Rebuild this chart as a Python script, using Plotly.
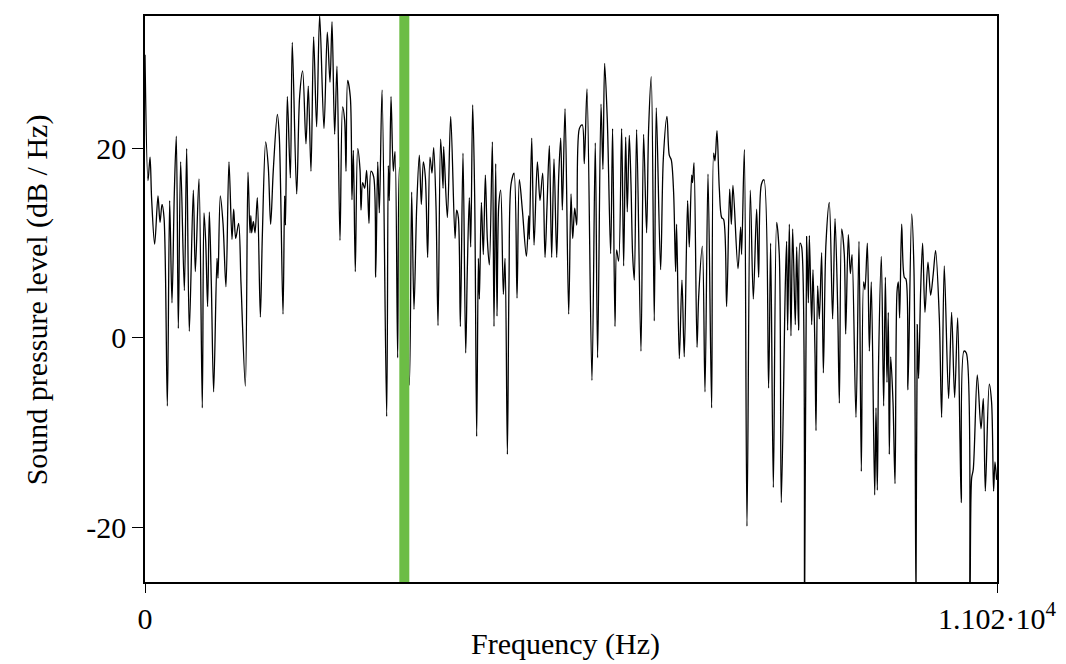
import plotly.graph_objects as go

# Spectrum (frequency in Hz, level in dB/Hz)
freq_hz = [
    0, 39, 65, 86, 125, 168, 194, 220, 246, 289, 319, 349, 379, 405, 431, 461, 509, 539, 573,
    625, 651, 698, 741, 763, 785, 810, 832, 858, 888, 931, 944, 974, 1009, 1047, 1086, 1125,
    1147, 1173, 1211, 1242, 1298, 1332, 1358,
    1369, 1380, 1401, 1423, 1453, 1492, 1518, 1561, 1595, 1625, 1660, 1712, 1737, 1785, 1806,
    1817, 1841, 1880, 1905, 1962, 2000, 2039, 2082, 2112, 2147, 2181, 2220, 2259, 2315, 2358,
    2393, 2419, 2453, 2483, 2522, 2556, 2582, 2600, 2621, 2656, 2677, 2695, 2720, 2751, 2781,
    2794, 2815, 2841, 2867, 2897, 2923, 2958, 2984, 3010, 3031, 3066, 3126, 3147, 3160, 3182,
    3212, 3234, 3268, 3290, 3350, 3419, 3449, 3479, 3514, 3548, 3574, 3600, 3626, 3656, 3686,
    3712, 3734, 3764, 3790, 3824, 3855, 3863, 3911, 3954, 4010, 4031, 4053, 4079, 4113, 4148,
    4169, 4195,
    4213, 4238, 4264, 4290, 4312, 4325, 4351, 4376, 4402, 4428, 4454, 4493, 4514, 4536, 4553,
    4575, 4601, 4635, 4657, 4687, 4708, 4734, 4773, 4812, 4842, 4881, 4933, 4963, 4971, 5002,
    5032, 5075, 5109, 5144, 5174, 5200, 5230, 5260, 5290, 5325, 5351, 5377, 5398, 5433, 5480,
    5510, 5532, 5558, 5584, 5618,
    5656, 5682, 5717, 5781, 5824, 5854, 5898, 5923, 5945, 5980, 6023, 6048, 6079, 6100, 6126,
    6165, 6191, 6217, 6238, 6264, 6286, 6307, 6329, 6359, 6415, 6449, 6488, 6514, 6548, 6587,
    6613, 6669, 6704, 6751, 6781, 6807, 6837, 6863, 6876, 6911, 6945, 6975, 7018, 7040,
    7071, 7083, 7101, 7140, 7161, 7209, 7243, 7282, 7329, 7355, 7372, 7398, 7428, 7459, 7484,
    7523, 7562, 7584, 7605, 7670, 7704, 7717, 7752, 7786, 7829, 7868, 7911, 7937, 7972, 8006,
    8066, 8092, 8127, 8170, 8204, 8230, 8282, 8299, 8312, 8334, 8355, 8377, 8411, 8429, 8454,
    8472, 8493, 8532, 8558, 8580, 8593, 8623, 8640, 8666, 8679, 8700, 8722, 8752, 8774, 8808,
    8851, 8894, 8925, 8959, 8981, 9011, 9045, 9063, 9097, 9123, 9145, 9196, 9235, 9265, 9295,
    9312, 9343, 9369, 9394, 9438, 9455, 9472, 9489, 9524, 9554, 9576, 9597, 9614, 9627, 9645,
    9675, 9701, 9727, 9744, 9761, 9787, 9821, 9843, 9868,
    9916, 9946, 9972, 9989, 10006, 10032, 10058, 10088, 10127, 10162, 10196, 10226, 10274,
    10304, 10338, 10394, 10433, 10472, 10511, 10541, 10558, 10593, 10623, 10670, 10692, 10713,
    10765, 10813, 10843, 10869, 10920, 10950, 10976, 10994, 11015,
]
level_db = [
    29.9, 16.6, 19.1, 14.6, 9.9, 15.0, 12.2, 14.1, 12.7, -7.2, 14.5, 3.7, 15.2, 21.3, 1.0, 18.6, 5.0, 20.0, 0.7,
    15.6, 7.0, 16.8, -7.4, 13.2, 10.2, 3.3, 13.3, 5.7, -5.7, 8.4, 6.3, 15.0, 12.1, 5.4, 18.6, 10.4,
    13.6, 10.5, 12.1, 5.7, -5.1, 17.5, 11.1,
    12.9, 11.1, 12.3, 11.1, 14.8, 2.2, 10.9, 20.7, 18.0, 12.0, 17.8, 23.6, 21.3, 2.5, 15.0,
    11.9, 25.5, 16.9, 31.2, 15.2, 25.5, 28.2, 20.5, 26.6, 17.6, 31.8, 22.3, 34.1, 22.1, 32.3,
    27.0, 33.4, 21.5, 28.7, 10.3, 24.4, 23.0, 17.6, 27.2, 25.4, 14.6, 19.8, 7.0, 20.0, 17.8,
    13.5, 16.4, 15.8, 17.7, 12.1, 17.6, 17.0, 6.4, 18.6, 13.2, 26.2, -8.3, 18.2, 14.5, 25.5,
    17.6, 19.7, -2.1, 18.0, 10.0, -5.0, 15.4, 3.0, 13.8, 19.3, 14.1, 18.6, 17.0, 8.5, 19.1,
    17.4, 20.1, 13.9, 1.3, 21.0, 15.8, 20.2, 12.7, 23.4, 10.5, 13.5, 12.7, 1.2, 19.5, -1.6,
    7.2, 14.8,
    9.6, 24.6, 15.0, -10.4, 8.4, 4.1, 14.3, 8.8, 17.2, 10.4, 7.7, 20.7, 1.2, 18.4, 2.3,
    13.9, 15.6, 4.6, 8.4, -12.3, 5.9, 16.2, 17.4, 4.2, 16.7, 13.5, 8.6, 12.9, 10.4, 21.1,
    9.8, 18.6, 14.5, 17.4, 8.5, 13.9, 20.3, 8.5, 18.9, 8.5, 17.1, 21.1, 13.5, 24.2, 2.5,
    15.2, 10.5, 13.7, 11.9, 22.1,
    22.5, 18.4, 26.3, -4.5, 20.6, -2.1, 24.7, 17.8, 29.0, 22.9, 8.9, 22.1, 1.2, 9.3, 8.1,
    22.1, 7.6, 21.2, 13.3, 21.4, 16.2, 8.8, 6.1, 22.0, -1.4, 21.5, 11.1, 22.1, 27.6, 1.8,
    24.3, 7.2, 18.9, 23.4, 19.3, 18.8, 15.4, 7.0, 12.0, -2.2, 6.1, -2.0, 14.5, 9.6,
    17.2, 16.4, 18.5, -1.0, 4.3, 9.7, -5.7, 17.3, -7.4, 19.5, 18.7, 21.9, 15.8, 12.7, 12.5,
    3.3, 15.7, 12.0, 16.1, 7.3, 11.7, 8.8, 19.9, -19.9, 15.6, 4.1, 13.6, 6.4, 16.2, 16.7,
    -5.3, 10.0, -15.8, 12.2, 8.8, -17.4, 5.6, 10.2, 0.8, 12.0, 0.2, 11.5, 1.4, 9.6, 0.8,
    10.0, 9.6, -28.0, 10.7, 3.7, 10.8, 1.4, 7.2, -1.6, -9.8, 5.5, 2.0, 9.0, -3.7, 10.0,
    14.3, 2.0, 12.6, 3.3, -6.9, 11.5, 8.8, 0.4, 10.9, 6.8, 8.8, -8.4, 10.2, -14.1, 5.9,
    5.1, 10.0, -1.4, 5.9, -16.6, -7.4, -16.1, -2.3, 8.6, -7.2, 6.4, -4.7, 2.7, -12.3, -2.0,
    -6.8, -15.4, 4.9, 5.9, 2.1, 12.0, 6.4, 6.2, -5.5,
    13.1, 7.2, -28.0, 1.4, -4.3, 4.9, 10.0, 2.7, 8.0, 4.5, 6.8, 9.2, 2.1,
    -8.4, 7.6, -6.4, 2.7, -6.3, 2.1, -10.7, -17.4, -1.4, -1.6, -28.0, -14.8, -13.9,
    -3.9, -9.6, -6.4, -16.2, -4.9, -6.8, -16.2, -13.1, -15.0,
]

marker_freq = [3354, 3354]
marker_range = [-25.79, 34.0]

x_ticks = [0, 11020]
x_tick_text = ["0", "1.102·10<sup>4</sup>"]
y_ticks = [-20, 0, 20]
y_tick_text = ["-20", "0", "20"]

FONT = "Liberation Serif"
FS = 30

fig = go.Figure()
fig.add_trace(go.Scatter(
    x=freq_hz, y=level_db, mode="lines",
    line=dict(color="black", width=1.3, shape="spline", smoothing=0.9),
    hoverinfo="skip", showlegend=False,
))
fig.add_trace(go.Scatter(
    x=marker_freq, y=marker_range, mode="lines",
    line=dict(color="#6cbd45", width=10),
    hoverinfo="skip", showlegend=False,
))

axis_common = dict(
    showline=True, mirror=True, linecolor="black", linewidth=1.5,
    showgrid=False, zeroline=False, ticks="outside", tickcolor="black",
    tickwidth=1, tickfont=dict(family=FONT, size=FS, color="black"),
)
fig.update_xaxes(range=[0, 11020], tickvals=x_ticks, ticktext=x_tick_text,
                 ticklen=9, **axis_common)
fig.update_yaxes(range=[-25.79, 34.0], tickvals=y_ticks, ticktext=y_tick_text,
                 ticklen=11, **axis_common)

# page body has an 8px margin, so the figure is sized/offset to compensate
fig.update_layout(
    width=1058, height=656, autosize=False,
    margin=dict(l=137, r=69, t=6, b=82),
    paper_bgcolor="white", plot_bgcolor="white",
    font=dict(family=FONT, color="black"),
    annotations=[
        dict(text="Frequency (Hz)", xref="paper", yref="paper", x=0.493, y=-0.109,
             xanchor="center", yanchor="middle", showarrow=False,
             font=dict(family=FONT, size=FS, color="black")),
        dict(text="Sound pressure level (dB / Hz)", xref="paper", yref="paper",
             x=-0.127, y=0.499, xanchor="center", yanchor="middle", textangle=-90,
             showarrow=False, font=dict(family=FONT, size=FS, color="black")),
    ],
)

fig.write_html("out.html")
